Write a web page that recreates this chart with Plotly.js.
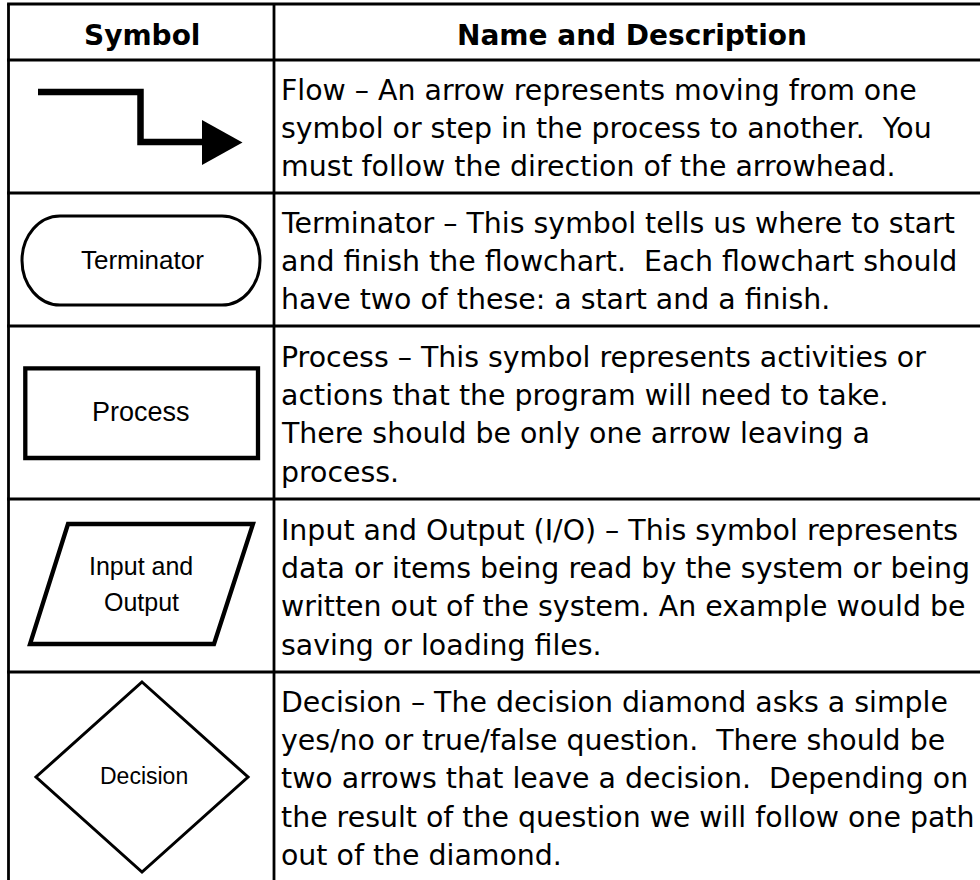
<!DOCTYPE html>
<html>
<head>
<meta charset="utf-8">
<script src="https://cdn.plot.ly/plotly-3.0.1.min.js"></script>
<style>html,body{margin:0;padding:0;background:#fff;}#chart{width:980px;height:880px;}</style>
</head>
<body>
<div id="chart"></div>
<script>
// ---- content ----
const headers = ['Symbol', 'Name and Description'];
const symbolNames = ['Flow', 'Terminator', 'Process', 'Input and Output', 'Decision'];
const symbolLabels = [[], ['Terminator'], ['Process'], ['Input and', 'Output'], ['Decision']];
const flowLines = [
  'Flow \u2013 An arrow represents moving from one',
  'symbol or step in the process to another. \u00a0You',
  'must follow the direction of the arrowhead.'
];
const terminatorLines = [
  'Terminator \u2013 This symbol tells us where to start',
  'and finish the flowchart. \u00a0Each flowchart should',
  'have two of these: a start and a finish.'
];
const processLines = [
  'Process \u2013 This symbol represents activities or',
  'actions that the program will need to take.',
  'There should be only one arrow leaving a',
  'process.'
];
const ioLines = [
  'Input and Output (I/O) \u2013 This symbol represents',
  'data or items being read by the system or being',
  'written out of the system. An example would be',
  'saving or loading files.'
];
const decisionLines = [
  'Decision \u2013 The decision diamond asks a simple',
  'yes/no or true/false question. \u00a0There should be',
  'two arrows that leave a decision. \u00a0Depending on',
  'the result of the question we will follow one path',
  'out of the diamond.'
];
const descriptions = [flowLines, terminatorLines, processLines, ioLines, decisionLines];

// ---- layout (pixel-space data coordinates) ----
const W = 980, H = 880;
const rowEdges = [4, 60, 193, 326, 499, 672];
const leftX = 8.5, divX = 274;
const headerBaseline = 45;
const descX = 281;
const firstBaselines = [100, 233, 367, 540, 712];
const lineStep = 38.4;
const labelCenterX = [0, 142, 141, 141, 144];
const labelBaselines = [[], [269], [421], [575, 611], [784]];
const labelSizes = [0, 26, 27, 25, 23];
const descFont = 28.4, headFont = 28;
const gridW = 2.8;

// symbol geometry
const symbolShapes = [
  [
    {path: 'M38,92 H140.5 V142 H212', width: 6.5, fill: null},
    {path: 'M202,120 L242.5,142.5 L202,165 Z', width: 0, fill: '#000'}
  ],
  [{path: 'M60,216 H222 C243,216 260,236 260,260.5 C260,285 243,305 222,305 H60 C39,305 22,285 22,260.5 C22,236 39,216 60,216 Z', width: 3, fill: null}],
  [{path: 'M25.3,368.3 H258 V458 H25.3 Z', width: 4.3, fill: null}],
  [{path: 'M68,524 L253,524 L214,644 L30,644 Z', width: 4.3, fill: null}],
  [{path: 'M142,682 L248,777 L142,872 L36,777 Z', width: 3, fill: null}]
];

const shapes = [];
function line(x0, y0, x1, y1, w) {
  shapes.push({type: 'line', xref: 'x', yref: 'y', x0: x0, y0: y0, x1: x1, y1: y1,
    line: {color: '#000', width: w}});
}
// table grid
line(leftX, rowEdges[0], leftX, H + 5, gridW);
line(divX, rowEdges[0], divX, H + 5, gridW);
rowEdges.forEach(y => line(leftX - gridW / 2, y, W + 5, y, gridW));

symbolShapes.forEach(list => list.forEach(s => {
  shapes.push({type: 'path', xref: 'x', yref: 'y', path: s.path,
    fillcolor: s.fill || 'rgba(0,0,0,0)',
    line: {color: '#000', width: s.width}});
}));

const annotations = [];
function txt(x, baseline, text, size, family, anchor, bold) {
  annotations.push({
    xref: 'x', yref: 'y', x: x, y: baseline - 0.346 * size,
    text: bold ? '<b>' + text + '</b>' : text,
    showarrow: false, xanchor: anchor, yanchor: 'middle',
    borderpad: 0, borderwidth: 0,
    font: {family: family, size: size, color: '#000'}
  });
}
txt((leftX + divX) / 2 + 0.5, headerBaseline, headers[0], headFont, 'DejaVu Sans', 'center', true);
txt(632, headerBaseline, headers[1], headFont, 'DejaVu Sans', 'center', true);

descriptions.forEach((lines, r) => {
  lines.forEach((t, i) => txt(descX, firstBaselines[r] + i * lineStep, t, descFont, 'DejaVu Sans', 'left', false));
});
symbolLabels.forEach((lines, r) => {
  lines.forEach((t, i) => txt(labelCenterX[r], labelBaselines[r][i], t, labelSizes[r], 'Liberation Sans, Arial', 'center', false));
});

const data = [{
  type: 'scatter', mode: 'markers', x: [], y: [], name: symbolNames.join(', '),
  hoverinfo: 'skip', showlegend: false
}];

const layout = {
  width: W, height: H,
  margin: {l: 0, r: 0, t: 0, b: 0, pad: 0},
  paper_bgcolor: '#fff', plot_bgcolor: '#fff',
  showlegend: false,
  xaxis: {range: [0, W], autorange: false, visible: false, fixedrange: true},
  yaxis: {range: [H, 0], autorange: false, visible: false, fixedrange: true},
  shapes: shapes,
  annotations: annotations
};
Plotly.newPlot('chart', data, layout, {staticPlot: true, displayModeBar: false});
</script>
</body>
</html>
